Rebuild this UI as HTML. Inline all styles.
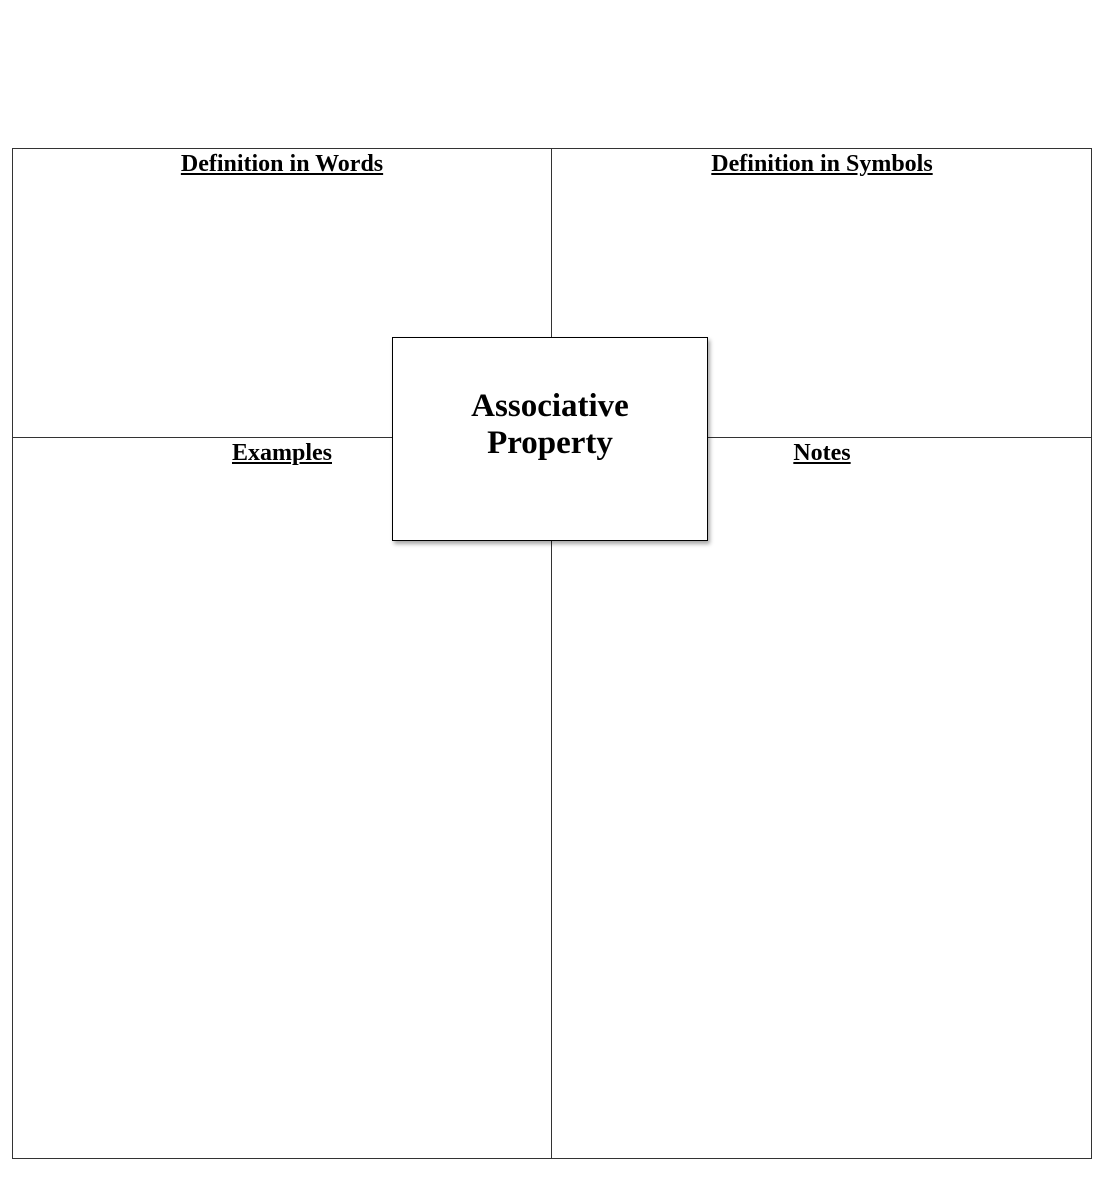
<!DOCTYPE html>
<html><head><meta charset="utf-8"><style>
body{margin:0;width:1100px;height:1180px;background:#fff;position:relative;font-family:"Liberation Serif",serif;overflow:hidden}
.l{position:absolute;background:#333}
.t{position:absolute;font-weight:bold;font-size:24px;text-decoration:underline;text-align:center;line-height:28px}
#box{position:absolute;left:392px;top:337px;width:314px;height:202px;border:1.5px solid #000;background:#fff;box-shadow:2px 3px 4px rgba(0,0,0,.35);text-align:center}
#box div{position:absolute;top:50px;width:100%;font-weight:bold;font-size:33px;line-height:37px}
</style></head><body>
<div class="l" style="left:12px;top:148px;width:1080px;height:1px"></div>
<div class="l" style="left:12px;top:1158px;width:1080px;height:1px"></div>
<div class="l" style="left:12px;top:148px;width:1px;height:1011px"></div>
<div class="l" style="left:1091px;top:148px;width:1px;height:1011px"></div>
<div class="l" style="left:551px;top:148px;width:1px;height:1011px"></div>
<div class="l" style="left:12px;top:437px;width:1080px;height:1px"></div>
<div class="t" style="left:12px;width:540px;top:150px">Definition in Words</div>
<div class="t" style="left:552px;width:540px;top:150px">Definition in Symbols</div>
<div class="t" style="left:12px;width:540px;top:439px">Examples</div>
<div class="t" style="left:552px;width:540px;top:439px">Notes</div>
<div id="box"><div>Associative<br>Property</div></div>
</body></html>
